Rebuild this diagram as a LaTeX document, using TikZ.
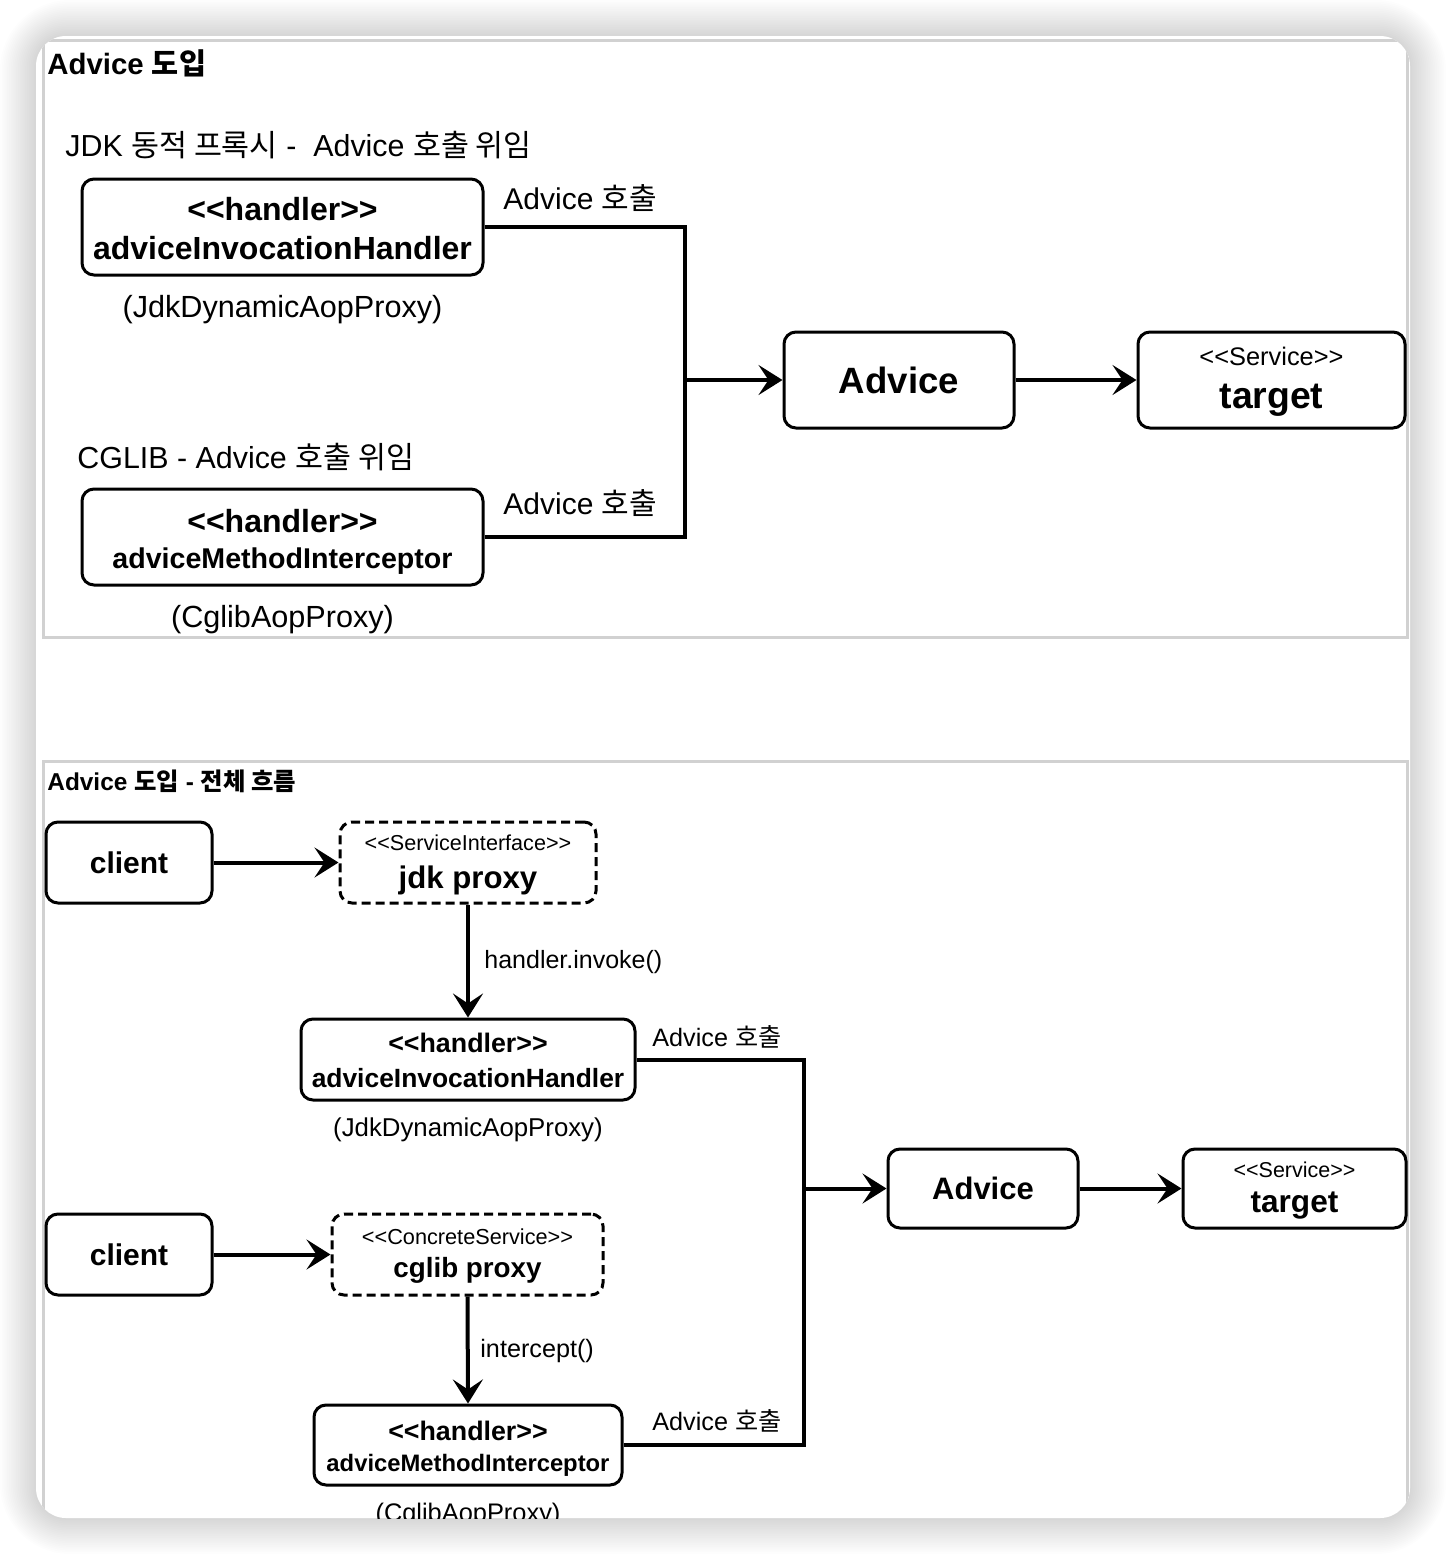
\documentclass[tikz,border=0pt]{standalone}
\usepackage{fontspec}
\newfontfamily\lsans{Liberation Sans}
\newfontfamily\kr{Noto Sans CJK KR}
\usetikzlibrary{arrows.meta}
\newcommand\fs[1]{\fontsize{#1}{1.2\dimexpr#1pt\relax}\selectfont}

\begin{document}
\begin{tikzpicture}[x=0.5pt,y=-0.5pt,
  every node/.style={font=\lsans, inner sep=0pt},
  box/.style={draw, line width=1.5pt, rounded corners=6pt, fill=white, align=center},
  proxybox/.style={box, dash pattern=on 4.5pt off 2.5pt},
  txt/.style={anchor=base, font={\lsans\fs{#1}}},
  btxt/.style={anchor=base, font={\lsans\bfseries\fs{#1}}},
  conn/.style={line width=2pt},
  arr/.style={conn, -{Stealth[length=12pt,width=15pt,inset=5pt]}},
  panel/.style={draw=black!18, line width=1.5pt},
  lab/.style={anchor=west, font={\lsans\fs{#1}}}
]
\useasboundingbox (0,0) rectangle (1446,1554);

% soft drop shadow around the card
\foreach \i in {1,...,20}
  \fill[black, opacity=0.009, rounded corners={15pt+\i*1pt}]
    (36-1.8*\i,36-1.8*\i) rectangle (1410+1.8*\i,1518+1.8*\i);
\fill[white, rounded corners=15pt] (36,36) rectangle (1410,1518);

\begin{scope}
\clip[rounded corners=15pt] (36,36) rectangle (1410,1518);

% two framed panels
\draw[panel] (43.5,40) rectangle (1407,637);
\draw[panel] (43.5,761) rectangle (1407,1540);

% ---------- panel 1 ----------
\node[anchor=base west, font={\lsans\bfseries\fs{14.7}}] (title1) at (47,74) {Advice {\kr 도입}};
\node[anchor=base west, font={\lsans\fs{15.2}}] (capjdk) at (65,156) {JDK {\kr 동적 프록시} -\ \ Advice {\kr 호출 위임}};
\node[anchor=base west, font={\lsans\fs{15.2}}] (capcg) at (77,468) {CGLIB - Advice {\kr 호출 위임}};

\node[box, minimum width=200.5pt, minimum height=48pt] (h1) at (282.5,227) {};
\node[btxt=16] (h1a) at (282.5,220) {<{}<handler>{}>};
\node[btxt=16] (h1b) at (282.5,259) {adviceInvocationHandler};
\node[txt=15.3] (h1sub) at (282.5,317) {(JdkDynamicAopProxy)};

\node[box, minimum width=200.5pt, minimum height=48pt] (h2) at (282.5,537) {};
\node[btxt=16] (h2a) at (282.5,532) {<{}<handler>{}>};
\node[btxt=14.3] (h2b) at (282.5,568) {adviceMethodInterceptor};
\node[txt=15.3] (h2sub) at (282.5,627) {(CglibAopProxy)};

\node[box, minimum width=115pt, minimum height=48pt, font={\lsans\bfseries\fs{18.3}}] (adv1) at (899,380) {Advice};
\node[box, minimum width=133.5pt, minimum height=48pt] (tgt1) at (1271.5,380) {};
\node[txt=12.7] (tgt1a) at (1271.5,365) {<{}<Service>{}>};
\node[btxt=18.7] (tgt1b) at (1271.5,408) {target};

\node[lab=15] (call1) at (503,198) {Advice {\kr 호출}};
\node[lab=15] (call2) at (503,503) {Advice {\kr 호출}};

\coordinate (j1) at (685,380);
\draw[conn] (h1.east) -| (j1);
\draw[conn] (h2.east) -| (j1);
\draw[arr] (j1) -- (adv1.west);
\draw[arr] (adv1.east) -- (tgt1.west);

% ---------- panel 2 ----------
\node[anchor=base west, font={\lsans\bfseries\fs{12.2}}] (title2) at (47,790) {Advice {\kr 도입} - {\kr 전체 흐름}};

\node[box, minimum width=83pt, minimum height=40.5pt, font={\lsans\bfseries\fs{15}}] (c1) at (129,862.5) {client};
\node[proxybox, minimum width=128pt, minimum height=40.5pt] (jdk) at (468,862.5) {};
\node[txt=10.8] (jdka) at (468,850) {<{}<ServiceInterface>{}>};
\node[btxt=15.6] (jdkb) at (468,888) {jdk proxy};

\node[box, minimum width=167pt, minimum height=40.5pt] (h3) at (468,1059.5) {};
\node[btxt=13.4] (h3a) at (468,1052) {<{}<handler>{}>};
\node[btxt=13.2] (h3b) at (468,1087) {adviceInvocationHandler};
\node[txt=12.9] (h3sub) at (468,1136) {(JdkDynamicAopProxy)};

\node[box, minimum width=95pt, minimum height=39.5pt, font={\lsans\bfseries\fs{15.5}}] (adv2) at (983,1188.5) {Advice};
\node[box, minimum width=111.5pt, minimum height=39.5pt] (tgt2) at (1294.5,1188.5) {};
\node[txt=10.75] (tgt2a) at (1294.5,1177) {<{}<Service>{}>};
\node[btxt=15.8] (tgt2b) at (1294.5,1212) {target};

\node[box, minimum width=83pt, minimum height=40.5pt, font={\lsans\bfseries\fs{15}}] (c2) at (129,1254.5) {client};
\node[proxybox, minimum width=135.5pt, minimum height=40.5pt] (cg) at (467.5,1254.5) {};
\node[txt=10.85] (cga) at (467.5,1244) {<{}<ConcreteService>{}>};
\node[btxt=13.9] (cgb) at (467.5,1277) {cglib proxy};

\node[box, minimum width=154pt, minimum height=40pt] (h4) at (468,1445) {};
\node[btxt=13.4] (h4a) at (468,1440) {<{}<handler>{}>};
\node[btxt=11.9] (h4b) at (468,1471) {adviceMethodInterceptor};
\node[txt=12.7] (h4sub) at (468,1521) {(CglibAopProxy)};

\node[lab=12.5] (inv) at (484,962) {handler.invoke()};
\node[lab=12.6] (icp) at (480,1351) {intercept()};
\node[lab=12.6] (call3) at (652,1037) {Advice {\kr 호출}};
\node[lab=12.6] (call4) at (652,1421) {Advice {\kr 호출}};

\draw[arr] (c1.east) -- (jdk.west);
\draw[arr] (jdk.south) -- (h3.north);
\draw[arr] (c2.east) -- (cg.west);
\draw[arr] (cg.south) -- (h4.north);

\coordinate (j2) at (804,1188.5);
\draw[conn] (h3.east) -| (j2);
\draw[conn] (h4.east) -| (j2);
\draw[arr] (j2) -- (adv2.west);
\draw[arr] (adv2.east) -- (tgt2.west);
\end{scope}
\end{tikzpicture}
\end{document}
